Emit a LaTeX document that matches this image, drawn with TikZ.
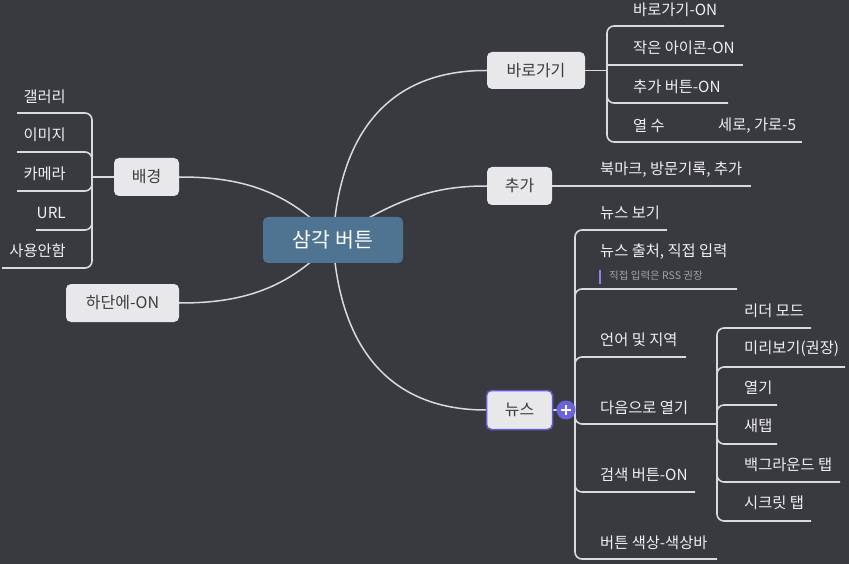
\documentclass[tikz,border=0pt]{standalone}
\usepackage{fontspec}
\setmainfont{Noto Sans CJK KR}
\definecolor{bgc}{RGB}{57,58,64}
\definecolor{linec}{RGB}{218,218,220}
\definecolor{nodefill}{RGB}{232,232,234}
\definecolor{nodetext}{RGB}{60,60,64}
\definecolor{centerfill}{RGB}{78,116,145}
\definecolor{leaftext}{RGB}{240,240,240}
\definecolor{notetext}{RGB}{160,160,166}
\definecolor{newsc}{RGB}{96,92,214}
\definecolor{plusc}{RGB}{108,100,220}
\pgfdeclarelayer{back}
\pgfdeclarelayer{bg}
\pgfsetlayers{back,bg,main}
\begin{document}
\begin{tikzpicture}[x=1pt,y=-1pt,
  conn/.style={draw=linec, line width=1.5pt},
  ub/.style={draw=linec, line width=1.6pt, rounded corners=7pt},
  centerbox/.style={fill=centerfill, rounded corners=5pt, text=white, font=\fontsize{20.5}{22}\selectfont, inner sep=0pt},
  branch/.style={fill=nodefill, rounded corners=5pt, text=nodetext, font=\fontsize{16}{18}\selectfont, inner sep=0pt},
  leaf/.style={text=leaftext, font=\fontsize{15.3}{17}\selectfont, inner sep=0pt, anchor=west},
  leafl/.style={text=leaftext, font=\fontsize{15.3}{17}\selectfont, inner sep=0pt, anchor=east},
  note/.style={text=notetext, font=\fontsize{10.5}{12}\selectfont, inner sep=0pt, anchor=west}
]
\begin{pgfonlayer}{back}
\fill[bgc] (0,0) rectangle (849,564);
\end{pgfonlayer}
\useasboundingbox (0,0) rectangle (849,564);

% main nodes
\node[centerbox, minimum width=140, minimum height=46] (c) at (333,240) {삼각 버튼};
\node[branch, minimum width=98, minimum height=37] (b1) at (536,70.5) {바로가기};
\node[branch, minimum width=65, minimum height=38] (b2) at (519.5,186) {추가};
\node[branch, draw=newsc, line width=1.5pt, minimum width=66, minimum height=39] (b3) at (519.5,410) {뉴스};
\node[circle, fill=plusc, minimum size=19, inner sep=0pt] (plus) at (566,410) {};
\draw[white, line width=1.8pt] ([xshift=-5]plus.center) -- ([xshift=5]plus.center);
\draw[white, line width=1.8pt] ([yshift=-5]plus.center) -- ([yshift=5]plus.center);
\node[branch, minimum width=65, minimum height=38] (b4) at (146.5,177) {배경};
\node[branch, minimum width=113, minimum height=38] (b5) at (122.5,303) {하단에-ON};

% leaves of 바로가기
\node[leaf] (l11) at (633,10) {바로가기-ON};
\node[leaf] (l12) at (633,48) {작은 아이콘-ON};
\node[leaf] (l13) at (633,87) {추가 버튼-ON};
\node[leaf] (l14) at (633,126) {열 수};
\node[leaf] (l141) at (718,126) {세로, 가로-5};
% leaf of 추가
\node[leaf] (l21) at (600,170) {북마크, 방문기록, 추가};
% leaves of 뉴스
\node[leaf] (l31) at (600,213) {뉴스 보기};
\node[leaf] (l32) at (600,252) {뉴스 출처, 직접 입력};
\node[note] (n32) at (609,276) {직접 입력은 RSS 권장};
\node[leaf] (l33) at (600,340) {언어 및 지역};
\node[leaf] (l34) at (600,408) {다음으로 열기};
\node[leaf] (l35) at (600,475) {검색 버튼-ON};
\node[leaf] (l36) at (600,543) {버튼 색상-색상바};
\node[leaf] (l341) at (744,311) {리더 모드};
\node[leaf] (l342) at (744,349) {미리보기(권장)};
\node[leaf] (l343) at (744,388) {열기};
\node[leaf] (l344) at (744,426) {새탭};
\node[leaf] (l345) at (744,465) {백그라운드 탭};
\node[leaf] (l346) at (744,503) {시크릿 탭};
% leaves of 배경
\node[leafl] (l41) at (66,97) {갤러리};
\node[leafl] (l42) at (66,135) {이미지};
\node[leafl] (l43) at (66,174) {카메라};
\node[leafl] (l44) at (66,213) {URL};
\node[leafl] (l45) at (66,251) {사용안함};

\draw[draw=plusc!80!white, line width=2pt] (600,270) -- (600,284);

\begin{pgfonlayer}{bg}
% curves from center
\draw[conn] (c.center) .. controls (340,120) and (400,70) .. (b1.west);
\draw[conn] (c.center) .. controls (400,195) and (440,186) .. (b2.west);
\draw[conn] (c.center) .. controls (340,360) and (400,410) .. (b3.west);
\draw[conn] (c.center) .. controls (285,185) and (230,177) .. (b4.east);
\draw[conn] (c.center) .. controls (285,295) and (230,303) .. (b5.east);

% 바로가기 children
\coordinate (j1) at (607,70.5);
\draw[ub] (b1.east) -- (j1);
\draw[ub] (j1) -- (607,26) -- (724,26);
\draw[ub] (607,65) -- (743,65);
\draw[ub] (j1) -- (607,103) -- (728,103);
\draw[ub] (j1) -- (607,142) -- (672,142);
\draw[ub] (672,142) -- (802,142);

% 추가 child
\draw[ub] (b2.east) -- (751,186);

% 뉴스 children
\coordinate (j3) at (575,410);
\draw[ub] (b3.east) -- (j3);
\draw[ub] (j3) -- (575,230) -- (667,230);
\draw[ub] (j3) -- (575,289) -- (737,289);
\draw[ub] (j3) -- (575,357) -- (686,357);
\draw[ub] (j3) -- (575,424) -- (697,424);
\draw[ub] (j3) -- (575,492) -- (695,492);
\draw[ub] (j3) -- (575,559) -- (717,559);

% 다음으로 열기 children
\coordinate (j34) at (717,424);
\draw[ub] (697,424) -- (j34);
\draw[ub] (j34) -- (717,328) -- (811,328);
\draw[ub] (j34) -- (717,367) -- (845,367);
\draw[ub] (j34) -- (717,405) -- (777,405);
\draw[ub] (j34) -- (717,444) -- (777,444);
\draw[ub] (j34) -- (717,482) -- (840,482);
\draw[ub] (j34) -- (717,521) -- (811,521);

% 배경 children
\coordinate (j4) at (92,177);
\draw[ub] (b4.west) -- (j4);
\draw[ub] (j4) -- (92,113) -- (17,113);
\draw[ub] (j4) -- (92,152) -- (17,152);
\draw[ub] (j4) -- (92,191) -- (17,191);
\draw[ub] (j4) -- (92,230) -- (36,230);
\draw[ub] (j4) -- (92,268) -- (2,268);
\end{pgfonlayer}
\end{tikzpicture}
\end{document}
